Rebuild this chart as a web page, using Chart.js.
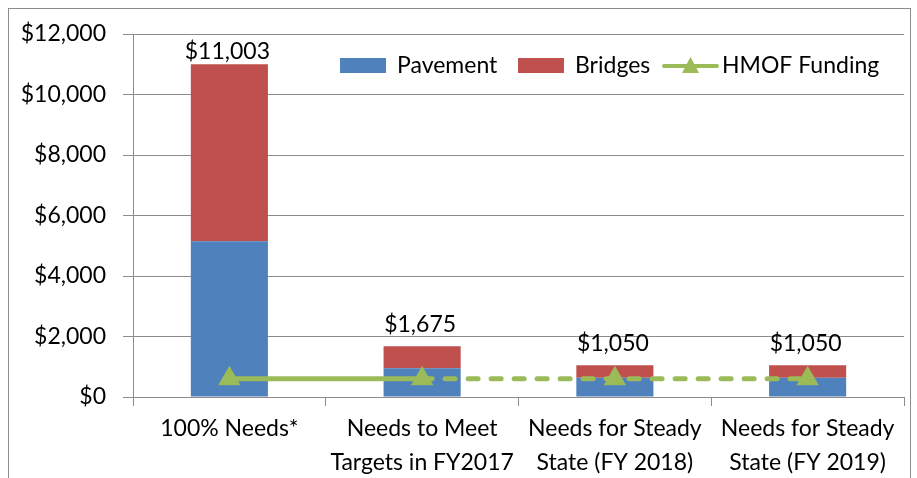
<!DOCTYPE html>
<html><head><meta charset="utf-8">
<script src="https://cdn.jsdelivr.net/npm/chart.js@4/dist/chart.umd.min.js"></script>
<style>
html,body{margin:0;padding:0;background:#fff;}
#wrap{position:relative;width:917px;height:478px;overflow:hidden;}
#frame{position:absolute;left:8px;top:8px;width:903px;height:520px;border:1px solid #8c8c8c;box-sizing:border-box;}
canvas{position:absolute;left:0;top:0;}
</style></head>
<body><div id="wrap"><div id="frame"></div><canvas id="c" width="917" height="478"></canvas></div>
<script>
const categories = [["100% Needs*"], ["Needs to Meet", "Targets in FY2017"], ["Needs for Steady", "State (FY 2018)"], ["Needs for Steady", "State (FY 2019)"]];
const pavement = [5150, 950, 640, 640];
const bridges = [5853, 725, 410, 410];
const totals = [11003, 1675, 1050, 1050];
const hmofFunding = [600, 600, 600, 600];
const yTicks = [0, 2000, 4000, 6000, 8000, 10000, 12000];

const FONT = "Lato";
const fmt = v => "$" + v.toLocaleString("en-US");

const labelPlugin = {
  id: "totals",
  afterDatasetsDraw(chart) {
    const ctx = chart.ctx, x = chart.scales.x, y = chart.scales.y;
    ctx.save();
    ctx.font = "23px " + FONT;
    ctx.fillStyle = "#000";
    ctx.textAlign = "center";
    ctx.textBaseline = "middle";
    totals.forEach((t, i) => {
      const cx = x.getPixelForValue(i) - 2;
      let cy = y.getPixelForValue(t) - 22;
      if (cy < 52) cy = 52;
      ctx.fillText(fmt(t), cx, cy);
    });
    ctx.restore();
  }
};

const legendPlugin = {
  id: "customLegend",
  afterDraw(chart) {
    const ctx = chart.ctx;
    ctx.save();
    ctx.font = "23px " + FONT;
    ctx.textBaseline = "middle";
    const cy = 66;
    ctx.fillStyle = "#4F81BD"; ctx.fillRect(340, 58, 46, 15);
    ctx.fillStyle = "#000"; ctx.fillText("Pavement", 397, cy);
    ctx.fillStyle = "#C0504D"; ctx.fillRect(518, 58, 46, 15);
    ctx.fillStyle = "#000"; ctx.fillText("Bridges", 575, cy);
    ctx.strokeStyle = "#9BBB59"; ctx.lineWidth = 4; ctx.lineCap = "round";
    ctx.beginPath(); ctx.moveTo(664, cy); ctx.lineTo(717, cy); ctx.stroke();
    ctx.fillStyle = "#9BBB59";
    ctx.beginPath(); ctx.moveTo(690.5, cy - 9); ctx.lineTo(699, cy + 7); ctx.lineTo(682, cy + 7); ctx.closePath(); ctx.fill();
    ctx.fillStyle = "#000"; ctx.fillText("HMOF Funding", 722, cy);
    ctx.restore();
  }
};

new Chart(document.getElementById("c"), {
  data: {
    labels: categories,
    datasets: [
      { type: "line", label: "HMOF Funding", data: hmofFunding, stack: "line", order: 0,
        borderColor: "#9BBB59", backgroundColor: "#9BBB59", borderWidth: 5, borderCapStyle: "round",
        pointStyle: "triangle", pointRadius: 13, pointHoverRadius: 13, pointBorderWidth: 0,
        segment: { borderDash: c => c.p0DataIndex >= 1 ? [10, 13] : undefined } },
      { type: "bar", label: "Pavement", data: pavement, backgroundColor: "#4F81BD", stack: "s", order: 1,
        barPercentage: 0.4, categoryPercentage: 1 },
      { type: "bar", label: "Bridges", data: bridges, backgroundColor: "#C0504D", stack: "s", order: 1,
        barPercentage: 0.4, categoryPercentage: 1 }
    ]
  },
  options: {
    responsive: false, animation: false,
    layout: { padding: { left: 0, right: 12, top: 34, bottom: 0 } },
    plugins: { legend: { display: false }, tooltip: { enabled: false } },
    scales: {
      x: {
        stacked: true, offset: true,
        grid: { display: true, offset: true, drawOnChartArea: false, color: "#8c8c8c", tickLength: 9, lineWidth: 1 },
        border: { color: "#8c8c8c" },
        ticks: { color: "#000", font: { family: FONT, size: 23, lineHeight: 1.5 }, padding: 5, maxRotation: 0, autoSkip: false },
        afterFit(s) { s.height = 81; }
      },
      y: {
        stacked: true, min: 0, max: 12000,
        afterBuildTicks(s) { s.ticks = yTicks.map(v => ({ value: v })); },
        grid: { color: "#8c8c8c", tickLength: 10, lineWidth: 1 },
        border: { color: "#8c8c8c" },
        ticks: { color: "#000", font: { family: FONT, size: 23 }, padding: 17, callback: v => fmt(v) },
        afterFit(s) { s.width = 133; }
      }
    }
  },
  plugins: [labelPlugin, legendPlugin]
});
</script>
</body></html>
